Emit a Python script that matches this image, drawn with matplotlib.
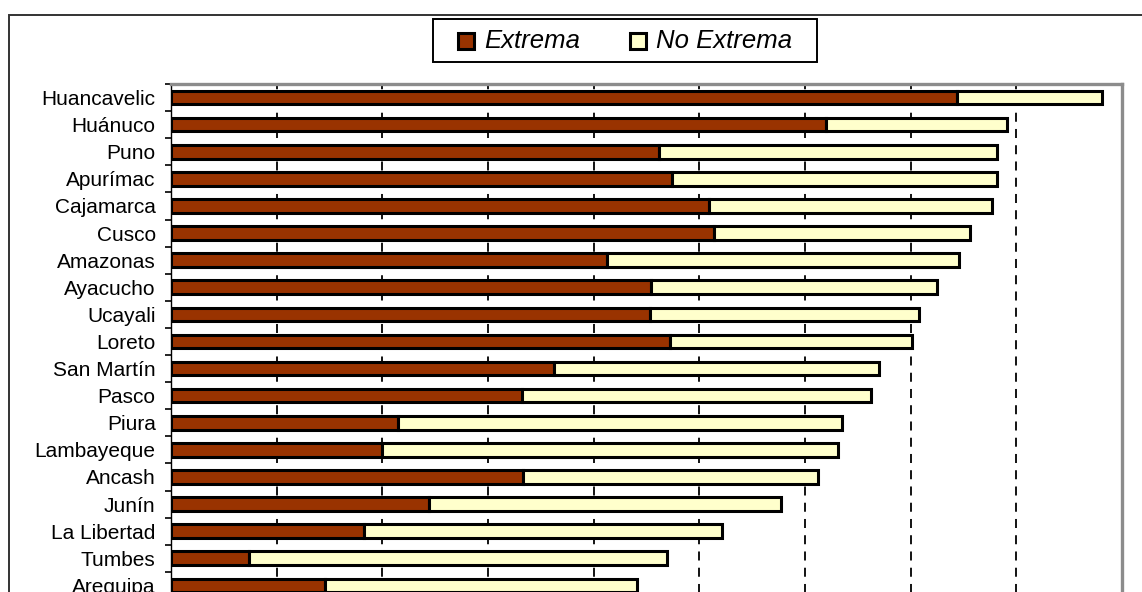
import matplotlib
matplotlib.use("Agg")
import matplotlib.pyplot as plt
from matplotlib.patches import Rectangle
import numpy as np

regions = ["Huancavelic", "Huánuco", "Puno", "Apurímac", "Cajamarca", "Cusco",
           "Amazonas", "Ayacucho", "Ucayali", "Loreto", "San Martín", "Pasco",
           "Piura", "Lambayeque", "Ancash", "Junín", "La Libertad", "Tumbes",
           "Arequipa"]
extrema = [74.4, 62.0, 46.2, 47.4, 50.9, 51.4, 41.3, 45.4, 45.3, 47.2, 36.2,
           33.2, 21.5, 20.0, 33.3, 24.4, 18.3, 7.4, 14.6]
no_extrema = [13.7, 17.1, 32.0, 30.8, 26.8, 24.2, 33.3, 27.1, 25.5, 22.9, 30.8,
              33.0, 42.0, 43.1, 27.9, 33.3, 33.8, 39.5, 29.5]
series_names = ["Extrema", "No Extrema"]
x_ticks = list(range(0, 91, 10))

C_EXT = "#993300"
C_NOEXT = "#FFFFCC"

plt.rcParams["font.family"] = ["Liberation Sans", "DejaVu Sans"]

W, H = 1142, 592
fig = plt.figure(figsize=(W / 100, H / 100), dpi=100)
fig.patch.set_facecolor("white")

# axes geometry in pixels
ax_left, ax_right, ax_top = 171, 1122, 84
row_h = 27.1
n = len(regions)
ax_bottom_px = ax_top + n * row_h
ax = fig.add_axes([ax_left / W, 1 - ax_bottom_px / H,
                   (ax_right - ax_left) / W, (ax_bottom_px - ax_top) / H])

y = np.arange(n)
ax.barh(y, extrema, height=0.5, color=C_EXT, edgecolor="black",
        linewidth=2.2, zorder=3)
ax.barh(y, no_extrema, left=extrema, height=0.5, color=C_NOEXT,
        edgecolor="black", linewidth=2.2, zorder=3)

ax.set_xlim(0, 90)
ax.set_ylim(n - 0.5, -0.5)
ax.set_xticks(x_ticks)
ax.tick_params(axis="x", length=0, labelbottom=False)
ax.xaxis.grid(True, color="black", linestyle=(0, (5, 4)), linewidth=1.3)
ax.set_axisbelow(True)

ax.set_yticks(y)
ax.set_yticklabels(regions, fontsize=15)
ax.tick_params(axis="y", which="major", length=0, pad=11)
ax.set_yticks(np.arange(-0.5, n, 1.0), minor=True)
ax.tick_params(axis="y", which="minor", length=4.5, width=1.2, color="black",
               direction="out")

for s in ["top", "right", "bottom"]:
    ax.spines[s].set_color("#8c8c8c")
    ax.spines[s].set_linewidth(2.4)
ax.spines["left"].set_color("black")
ax.spines["left"].set_linewidth(1.0)

# outer chart frame
fig.patches.append(Rectangle((9 / W, -0.05), 1.1, 1 - 15 / H + 0.05,
                             transform=fig.transFigure, fill=False,
                             edgecolor="#333333", linewidth=1.4, zorder=0))

# legend box
lx0, lx1, ly0, ly1 = 433, 817, 19, 62
fig.patches.append(Rectangle((lx0 / W, 1 - ly1 / H), (lx1 - lx0) / W,
                             (ly1 - ly0) / H, transform=fig.transFigure,
                             facecolor="white", edgecolor="black",
                             linewidth=1.4, zorder=5))
entries = [(458, 484, C_EXT), (630, 656, C_NOEXT)]
for (mx, tx, col), name in zip(entries, series_names):
    fig.patches.append(Rectangle((mx / W, 1 - 49 / H), 16 / W, 16 / H,
                                 transform=fig.transFigure, facecolor=col,
                                 edgecolor="black", linewidth=2.2, zorder=6))
    fig.text(tx / W, 1 - 40.5 / H, name, fontsize=18.5, style="italic",
             va="center", ha="left", zorder=7)

fig.savefig("out.png", dpi=100)
